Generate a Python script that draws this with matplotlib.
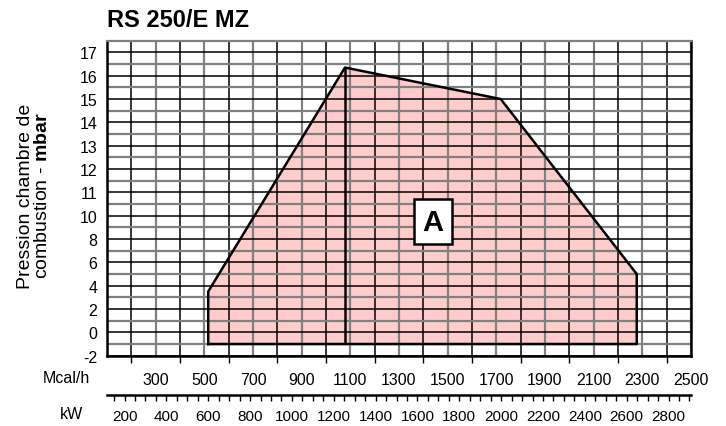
import numpy as np
import matplotlib
matplotlib.use("Agg")
import matplotlib.pyplot as plt
from matplotlib.ticker import FixedLocator, NullFormatter, FixedFormatter

# burner working field
mcal_h = [516, 516, 1078, 1718, 2277, 2277]
mbar = [-1, 3.5, 16.35, 15, 5, -1]

mcal_major = list(range(200, 2500, 200))          # ticks, black lines
mcal_labels = list(range(300, 2600, 200))         # labelled, gray lines
kw_major = list(range(200, 2900, 200))
kw_minor = list(range(150, 2950, 50))
mbar_major = [-2, 0, 2, 4, 6, 8, 10, 11, 12, 13, 14, 15, 16, 17]
mbar_minor = [-1, 1, 3, 5, 7, 9, 10.5, 11.5, 12.5, 13.5, 14.5, 15.5, 16.5]

KW_PER_MCAL = 1.163
GRAY = '#808080'


def fwd(y):
    y = np.asarray(y, dtype=float)
    return np.where(y <= 10, (y + 2) / 2.0, y - 4)


def inv(u):
    u = np.asarray(u, dtype=float)
    return np.where(u <= 6, 2 * u - 2, u + 4)


plt.rcParams['font.family'] = ['Liberation Sans', 'DejaVu Sans']
plt.rcParams['mathtext.fontset'] = 'custom'
plt.rcParams['mathtext.rm'] = 'Liberation Sans'
plt.rcParams['mathtext.bf'] = 'Liberation Sans:bold'

fig = plt.figure(figsize=(7.26, 4.27), dpi=100)
ax = fig.add_axes([107 / 726, 1 - 356.7 / 427, 584 / 726, 315 / 427])

ax.set_yscale('function', functions=(fwd, inv))
ax.set_xlim(100, 2500)
ax.set_ylim(-2, 17.5)

ax.fill(mcal_h, mbar, color='#ffcccc', zorder=0.3, lw=0)
ax.plot(mcal_h + [mcal_h[0]], mbar + [mbar[0]], color='black', lw=1.8, zorder=3)
ax.vlines(mcal_h[2], mbar[0], mbar[2], color='black', lw=1.8, zorder=3)

# x grid / ticks
ax.xaxis.set_major_locator(FixedLocator(mcal_major))
ax.xaxis.set_major_formatter(NullFormatter())
ax.xaxis.set_minor_locator(FixedLocator(mcal_labels))
ax.xaxis.set_minor_formatter(FixedFormatter([str(v) for v in mcal_labels]))
ax.tick_params(axis='x', which='major', length=5, width=1, color='black', direction='out')
ax.tick_params(axis='x', which='minor', length=0, pad=12, labelsize=11.5)

# y grid / ticks
ax.yaxis.set_major_locator(FixedLocator(mbar_major))
ax.yaxis.set_major_formatter(FixedFormatter([str(v) for v in mbar_major]))
ax.yaxis.set_minor_locator(FixedLocator(mbar_minor))
ax.yaxis.set_minor_formatter(NullFormatter())
ax.tick_params(axis='y', which='both', length=0, pad=7, labelsize=11.5)

ax.set_axisbelow(True)
ax.grid(True, which='major', color='black', lw=1.1)
ax.grid(True, which='minor', color=GRAY, lw=1.6)

for s in ['left', 'bottom', 'right']:
    ax.spines[s].set_linewidth(1.8)
    ax.spines[s].set_color('black')
ax.spines['top'].set_color(GRAY)
ax.spines['top'].set_linewidth(1.6)

# kW scale below
sec = ax.secondary_xaxis(-0.124, functions=(lambda m: m * KW_PER_MCAL,
                                            lambda k: k / KW_PER_MCAL))
sec.xaxis.set_major_locator(FixedLocator(kw_major))
sec.xaxis.set_minor_locator(FixedLocator(kw_minor))
sec.tick_params(which='both', length=4, width=1, direction='out', color='black')
sec.tick_params(which='major', pad=6.5, labelsize=11)
sec.spines['bottom'].set_linewidth(1.8)

ax.text(1440, 9.5, "A", fontsize=21, fontweight='bold', ha='center', va='center',
        zorder=4, bbox=dict(boxstyle='square,pad=0.3', fc='white', ec='black', lw=1.8))

fig.text(107 / 726, 1 - 26.7 / 427, "RS 250/E MZ", fontsize=17, fontweight='bold',
         ha='left', va='baseline')
fig.text(34 / 726, 1 - 196 / 427, "Pression chambre de\ncombustion - $\\mathbf{mbar}$",
         rotation=90, ha='center', va='center', fontsize=14, linespacing=1.0)
fig.text(66.7 / 726, 1 - 379 / 427, "Mcal/h", fontsize=11.5, ha='center', va='center')
fig.text(71.7 / 726, 1 - 414.5 / 427, "kW", fontsize=11.5, ha='center', va='center')

fig.savefig("out.png", dpi=100)
